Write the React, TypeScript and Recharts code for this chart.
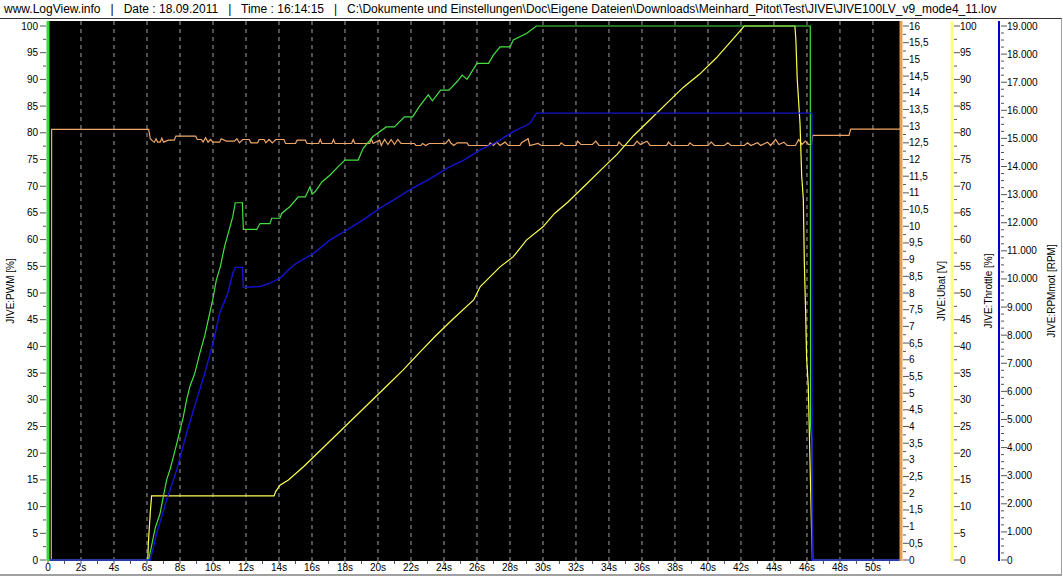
import React from "react";
import { LineChart, Line, XAxis, YAxis, CartesianGrid, ReferenceLine, Label } from "recharts";

const headerText =
  "www.LogView.info   |   Date : 18.09.2011   |   Time : 16:14:15   |   C:\\Dokumente und Einstellungen\\Doc\\Eigene Dateien\\Downloads\\Meinhard_Pitot\\Test\\JIVE\\JIVE100LV_v9_mode4_11.lov";

// [time s, value]
const pwmPoints: [number, number][] = [
  [0, 0], [6.1, 0], [6.3, 3], [6.5, 6], [6.79, 8.7], [7.0, 12], [7.19, 15], [7.4, 17], [7.6, 19.3],
  [7.9, 23], [8.2, 26.8], [8.4, 30], [8.6, 32.5], [8.9, 35], [9.2, 38.7], [9.5, 42], [9.8, 46.2],
  [10.0, 49], [10.2, 52.4], [10.45, 55], [10.7, 58.7], [10.95, 61.5], [11.2, 64.3], [11.35, 66.9],
  [11.78, 66.9], [11.84, 61.9], [12.65, 61.9], [12.85, 63], [13.45, 63], [13.56, 64], [14.06, 64],
  [14.16, 64.9], [14.67, 66.2], [15.17, 68], [15.6, 68], [15.88, 69.9], [16.0, 68.5], [16.2, 69],
  [16.6, 70.8], [17.1, 72.1], [17.6, 73.7], [18.0, 74.9], [18.8, 74.9], [19.1, 77.1], [19.7, 79.3],
  [20.5, 81.1], [21.0, 81.1], [21.6, 83], [22.1, 83], [22.5, 84.9], [23.05, 87.1], [23.3, 86],
  [23.8, 88], [24.3, 88], [24.8, 89.6], [25.1, 90.8], [25.4, 90], [26.0, 93], [26.7, 93],
  [27.0, 94.6], [27.4, 96.1], [28.0, 96.1], [28.2, 97.4], [29.0, 98.6], [29.6, 100], [46.2, 100],
  [46.22, 25], [46.3, 22], [46.35, 0], [51.7, 0],
];

const ubatPoints: [number, number][] = [
  [0, 0], [0.2, 0], [0.22, 12.9], [6.1, 12.9], [6.2, 12.62], [6.35, 12.55], [6.45, 12.52], [6.55, 12.62],
  [6.65, 12.52], [6.8, 12.52], [6.9, 12.64], [7.0, 12.52], [7.3, 12.58], [7.65, 12.58], [7.75, 12.7],
  [8.95, 12.7], [9.05, 12.6], [9.3, 12.6], [9.4, 12.52], [9.55, 12.65], [9.7, 12.52], [9.85, 12.6],
  [10.0, 12.52], [10.4, 12.52], [10.5, 12.62], [10.8, 12.55], [11.3, 12.55], [11.45, 12.62], [11.6, 12.5],
  [11.8, 12.6], [12.2, 12.6], [12.3, 12.5], [12.7, 12.5], [12.8, 12.6], [13.1, 12.6], [13.2, 12.5],
  [13.4, 12.6], [13.6, 12.5], [13.8, 12.6], [14.3, 12.6], [14.4, 12.48], [15.0, 12.48], [15.1, 12.58],
  [15.6, 12.58], [15.7, 12.48], [16.4, 12.48], [16.5, 12.6], [16.6, 12.48], [17.2, 12.48], [17.3, 12.6],
  [17.4, 12.48], [18.4, 12.48], [18.5, 12.6], [18.6, 12.48], [19.5, 12.48], [19.6, 12.62], [19.7, 12.48],
  [20.1, 12.58], [20.2, 12.42], [20.4, 12.6], [20.6, 12.45], [20.8, 12.6], [21.0, 12.45], [21.2, 12.6],
  [21.4, 12.48], [22.2, 12.48], [22.3, 12.42], [22.6, 12.42], [22.7, 12.48], [22.9, 12.42], [23.1, 12.48],
  [24.1, 12.48], [24.3, 12.6], [24.4, 12.5], [24.6, 12.42], [24.8, 12.5], [25.4, 12.5], [25.5, 12.42],
  [26.7, 12.42], [26.8, 12.5], [27.0, 12.42], [27.2, 12.52], [27.4, 12.42], [27.7, 12.52], [27.9, 12.42],
  [28.6, 12.42], [28.7, 12.5], [29.1, 12.62], [29.2, 12.42], [29.7, 12.48], [29.9, 12.42], [31.0, 12.42],
  [31.1, 12.5], [31.3, 12.42], [32.0, 12.42], [32.1, 12.55], [32.3, 12.45], [33.0, 12.45], [33.2, 12.55],
  [33.4, 12.42], [34.5, 12.42], [34.6, 12.52], [34.8, 12.42], [35.5, 12.42], [35.7, 12.55], [35.9, 12.45],
  [36.3, 12.55], [36.5, 12.42], [37.5, 12.42], [37.6, 12.52], [37.8, 12.42], [38.8, 12.42], [38.9, 12.5],
  [39.1, 12.42], [40.0, 12.42], [40.2, 12.52], [40.4, 12.42], [41.0, 12.42], [41.2, 12.5], [41.4, 12.42],
  [42.2, 12.42], [42.4, 12.5], [42.6, 12.42], [43.0, 12.5], [43.2, 12.42], [43.6, 12.52], [43.8, 12.42],
  [44.1, 12.6], [44.3, 12.45], [44.6, 12.52], [44.8, 12.42], [45.3, 12.42], [45.5, 12.6], [45.7, 12.45],
  [45.9, 12.55], [46.1, 12.45], [46.28, 12.45], [46.35, 12.72], [48.55, 12.72], [48.65, 12.91], [51.7, 12.91],
];

const throttlePoints: [number, number][] = [
  [0, 0], [6.05, 0], [6.08, 3], [6.2, 9], [6.28, 12], [13.7, 12], [13.8, 12.8], [14.06, 14], [14.57, 15],
  [15.5, 17.5], [16.5, 20.5], [17.5, 23.5], [18.5, 26.5], [19.5, 29.5], [20.5, 32.5], [21.5, 35.5],
  [22.5, 38.8], [23.5, 42], [24.5, 45], [25.8, 48.7], [26.2, 51.2], [27.4, 54.9], [28.2, 56.8],
  [29.0, 59.9], [30.0, 62.4], [30.7, 64.9], [31.5, 67], [32.5, 70], [33.5, 73], [34.5, 76], [35.5, 79.5],
  [36.5, 82.5], [37.5, 85.5], [38.5, 88.5], [39.5, 91], [40.5, 94], [41.5, 97.5], [42.2, 100],
  [45.27, 100], [45.33, 97.3], [45.41, 90.1], [45.58, 81.7], [45.68, 72], [45.78, 67.6], [45.84, 55.9],
  [45.92, 46.3], [45.98, 37.8], [46.08, 32.6], [46.18, 19.1], [46.28, 5.5], [46.33, 0], [51.7, 0],
];

const rpmPoints: [number, number][] = [
  [0, 0], [6.2, 0], [6.59, 950], [7.19, 2130], [7.8, 3200], [8.4, 4510], [9.0, 5690], [9.5, 6640],
  [10.0, 7710], [10.4, 8780], [10.9, 9490], [11.2, 10200], [11.35, 10410], [11.78, 10410], [11.84, 9700],
  [12.85, 9730], [13.45, 9850], [14.06, 10030], [14.67, 10380], [15.07, 10560], [16.1, 10910],
  [17.1, 11390], [18.1, 11740], [19.1, 12100], [20.1, 12510], [21.1, 12870], [22.1, 13230],
  [23.2, 13580], [24.2, 13940], [25.2, 14230], [26.2, 14590], [27.2, 14880], [28.2, 15240],
  [29.2, 15530], [29.6, 15900], [46.3, 15900], [46.32, 0], [51.7, 0],
];

const timeTicks = Array.from({ length: 52 }, (_, i) => i);
const gridTimes = Array.from({ length: 25 }, (_, i) => (i + 1) * 2);
const pctTicks = Array.from({ length: 41 }, (_, i) => i * 2.5);
const ubatTicks = Array.from({ length: 65 }, (_, i) => i * 0.25);
const rpmTicks = Array.from({ length: 77 }, (_, i) => i * 250);

const toRows = (pts: [number, number][]) => pts.map(([t, v]) => ({ t, v }));

const FONT = "'Liberation Sans', Arial, sans-serif";

const makeTick = (side: "left" | "right", majorStep: number, fmt: (v: number) => string) =>
  function Tick(props: any) {
    const { x, y, payload } = props;
    const v = payload.value;
    const major = Math.abs(v / majorStep - Math.round(v / majorStep)) < 1e-6;
    const len = major ? 6 : 3;
    if (side === "left") {
      return (
        <g>
          <line x1={x - 2 - len} x2={x - 2} y1={y} y2={y} stroke="#555" />
          {major && (
            <text x={x - 10} y={y + 3.5} textAnchor="end" fontSize={10} fontFamily={FONT} fill="#000">
              {fmt(v)}
            </text>
          )}
        </g>
      );
    }
    return (
      <g>
        <line x1={x + 2} x2={x + 2 + len} y1={y} y2={y} stroke="#555" />
        {major && (
          <text x={x + 8} y={y + 3.5} textAnchor="start" fontSize={10} fontFamily={FONT} fill="#000">
            {fmt(v)}
          </text>
        )}
      </g>
    );
  };

const PwmTick = makeTick("left", 5, (v) => String(v));
const UbatTick = makeTick("right", 0.5, (v) => String(v).replace(".", ","));
const ThrottleTick = makeTick("right", 5, (v) => String(v));
const RpmTick = makeTick("right", 1000, (v) => (v === 0 ? "0" : `${v / 1000}.000`));

function TimeTick(props: any) {
  const { x, y, payload } = props;
  const t = payload.value;
  const major = t % 2 === 0;
  return (
    <g>
      <line x1={x} x2={x} y1={y} y2={y + 3} stroke="#555" />
      {major && (
        <text x={x} y={y + 10} textAnchor="middle" fontSize={10} fontFamily={FONT} fill="#000">
          {t === 0 ? "0" : `${t}s`}
        </text>
      )}
    </g>
  );
}

const pad = { top: 5, bottom: 1 };
const titleStyle = { textAnchor: "middle", fontSize: 10, fontFamily: FONT, fill: "#000" } as const;

export default function App() {
  return (
    <div style={{ position: "absolute", left: 0, top: 0, width: 1063, height: 586, background: "#fff" }}>
      <div
        style={{
          position: "absolute",
          left: 4,
          top: 2,
          fontFamily: FONT,
          fontSize: 12,
          whiteSpace: "pre",
          color: "#000",
        }}
      >
        {headerText}
      </div>
      <div
        style={{
          position: "absolute",
          left: 0,
          top: 18,
          width: 1061,
          height: 555,
          borderTop: "1px solid #333",
          borderRight: "1px solid #a0a0a0",
          borderBottom: "2px solid #a0a0a0",
        }}
      />
      <div style={{ position: "absolute", left: 0, top: 0 }}>
        <LineChart width={1063} height={586} margin={{ top: 21, right: 1, bottom: 0, left: 0 }}>
          <CartesianGrid fill="#000" fillOpacity={1} horizontal={false} vertical={false} />
          <XAxis
            dataKey="t"
            type="number"
            domain={[0, 51.7]}
            ticks={timeTicks}
            interval={0}
            height={25}
            axisLine={false}
            tickLine={false}
            tickSize={0}
            tickMargin={0}
            tick={<TimeTick />}
            allowDataOverflow
          />
          <YAxis
            yAxisId="l_pwm"
            orientation="left"
            width={48}
            domain={[0, 100]}
            ticks={pctTicks}
            interval={0}
            padding={pad}
            axisLine={{ stroke: "#33dd33", strokeWidth: 3 }}
            tickLine={false}
            tickSize={0}
            tickMargin={0}
            tick={<PwmTick />}
          >
            <Label value="JIVE:PWM [%]" angle={-90} position="insideLeft" offset={10} style={titleStyle} />
          </YAxis>
          <YAxis
            yAxisId="r1_ubat"
            orientation="right"
            width={51}
            domain={[0, 16]}
            ticks={ubatTicks}
            interval={0}
            padding={pad}
            axisLine={{ stroke: "#e8a050", strokeWidth: 3 }}
            tickLine={false}
            tickSize={0}
            tickMargin={0}
            tick={<UbatTick />}
          >
            <Label value="JIVE:Ubat [V]" angle={-90} position="insideRight" offset={11} style={titleStyle} />
          </YAxis>
          <YAxis
            yAxisId="r2_throttle"
            orientation="right"
            width={47}
            domain={[0, 100]}
            ticks={pctTicks}
            interval={0}
            padding={pad}
            axisLine={{ stroke: "#ffff80", strokeWidth: 3 }}
            tickLine={false}
            tickSize={0}
            tickMargin={0}
            tick={<ThrottleTick />}
          >
            <Label value="JIVE:Throttle [%]" angle={-90} position="insideRight" offset={11} style={titleStyle} />
          </YAxis>
          <YAxis
            yAxisId="r3_rpm"
            orientation="right"
            width={63}
            domain={[0, 19000]}
            ticks={rpmTicks}
            interval={0}
            padding={pad}
            axisLine={{ stroke: "#0000cc", strokeWidth: 2 }}
            tickLine={false}
            tickSize={0}
            tickMargin={0}
            tick={<RpmTick />}
          >
            <Label value="JIVE:RPMmot [RPM]" angle={-90} position="insideRight" offset={11} style={titleStyle} />
          </YAxis>
          {gridTimes.map((t) => (
            <ReferenceLine key={t} x={t} yAxisId="l_pwm" stroke="#a0a0a0" strokeDasharray="4 4" />
          ))}
          <Line
            yAxisId="r1_ubat"
            data={toRows(ubatPoints)}
            dataKey="v"
            stroke="#f0a868"
            strokeWidth={1.2}
            dot={false}
            type="linear"
            isAnimationActive={false}
          />
          <Line
            yAxisId="r2_throttle"
            data={toRows(throttlePoints)}
            dataKey="v"
            stroke="#ffff50"
            strokeWidth={1.2}
            dot={false}
            type="linear"
            isAnimationActive={false}
          />
          <Line
            yAxisId="l_pwm"
            data={toRows(pwmPoints)}
            dataKey="v"
            stroke="#44e044"
            strokeWidth={1.2}
            dot={false}
            type="linear"
            isAnimationActive={false}
          />
          <Line
            yAxisId="r3_rpm"
            data={toRows(rpmPoints)}
            dataKey="v"
            stroke="#1414d0"
            strokeWidth={1.4}
            dot={false}
            type="linear"
            isAnimationActive={false}
          />
        </LineChart>
      </div>
    </div>
  );
}
